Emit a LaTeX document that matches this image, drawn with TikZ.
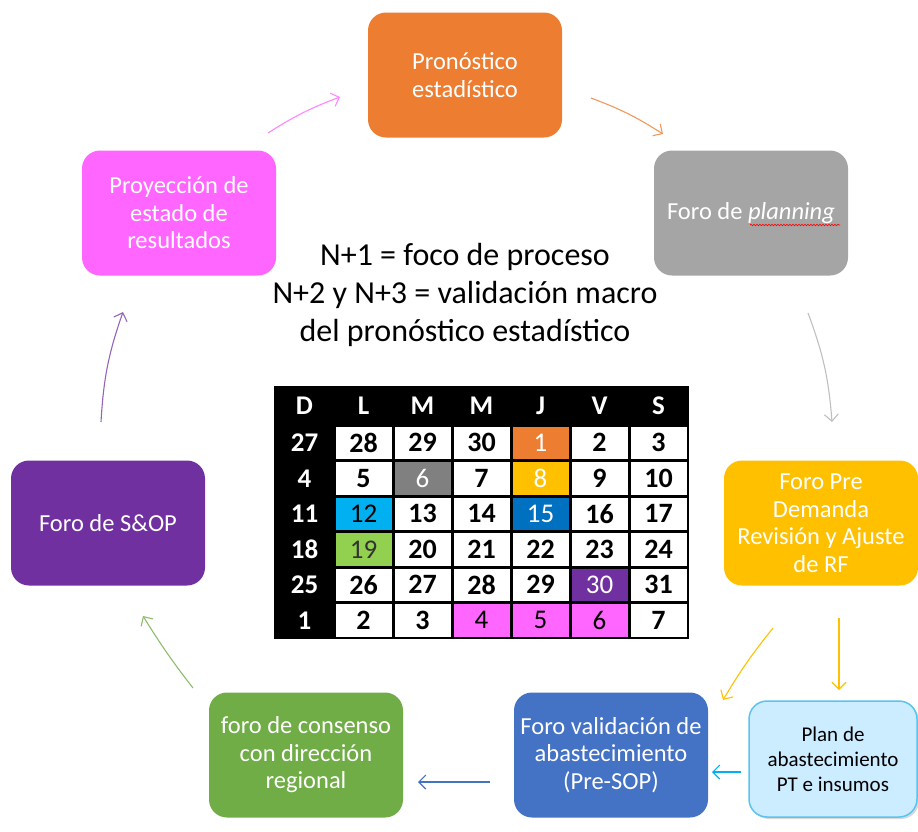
\documentclass[tikz,border=0pt]{standalone}
\usepackage{fontspec}
\setmainfont{Carlito}
\usetikzlibrary{arrows.meta,shadows,decorations.pathmorphing}

\definecolor{cOrange}{HTML}{ED7D31}
\definecolor{cGray}{HTML}{A5A5A5}
\definecolor{cDkGray}{HTML}{808080}
\definecolor{cMagenta}{HTML}{FF66FF}
\definecolor{cYellow}{HTML}{FFC000}
\definecolor{cPurple}{HTML}{7030A0}
\definecolor{cGreen}{HTML}{70AD47}
\definecolor{cLime}{HTML}{92D050}
\definecolor{cBlue}{HTML}{4472C4}
\definecolor{cDkBlue}{HTML}{0070C0}
\definecolor{cCyan}{HTML}{00B0F0}
\definecolor{cLight}{HTML}{CCECFF}
\definecolor{cLightEdge}{HTML}{5BC4EE}

\tikzset{
  procbox/.style={rounded corners=18pt, minimum width=194pt, minimum height=125pt,
    align=center, text=white, inner sep=4pt, font=\fontsize{24.5}{27.5}\selectfont},
  flow/.style={line width=1.1pt, -{Straight Barb[length=7pt,width=14pt]}},
  calhead/.style={text=white, font=\fontsize{27}{27}\selectfont\bfseries},
  calcell/.style={minimum width=56pt, minimum height=32.5pt, inner sep=0pt},
  wd/.style={fill=white, text=black, font=\fontsize{28}{28}\selectfont\bfseries},
  or/.style={fill=cOrange, text=white, font=\fontsize{27}{27}\selectfont},
  gy/.style={fill=cDkGray, text=white, font=\fontsize{27}{27}\selectfont},
  yl/.style={fill=cYellow, text=white, font=\fontsize{27}{27}\selectfont},
  cy/.style={fill=cCyan, text=black, font=\fontsize{27}{27}\selectfont},
  bl/.style={fill=cDkBlue, text=white, font=\fontsize{27}{27}\selectfont},
  gn/.style={fill=cLime, text=black!80, font=\fontsize{27}{27}\selectfont},
  pu/.style={fill=cPurple, text=white, font=\fontsize{27}{27}\selectfont},
  mg/.style={fill=cMagenta, text=black, font=\fontsize{27}{27}\selectfont}
}

\begin{document}
\begin{tikzpicture}[x=1pt,y=-1pt]

  \useasboundingbox (0,0) rectangle (918,831);

  \node[procbox, fill=cOrange]  (pron) at (465,75)  {Pronóstico\\estadístico};
  \node[procbox, fill=cGray]    (plan) at (751,213) {Foro de \textit{planning}};
  \node[procbox, fill=cMagenta] (proy) at (179,213) {Proyección de\\estado de\\resultados};
  \node[procbox, fill=cYellow]  (pre)  at (821,523) {Foro Pre\\Demanda\\Revisión y Ajuste\\de RF};
  \node[procbox, fill=cPurple]  (sop)  at (108,523) {Foro de S\&OP};
  \node[procbox, fill=cGreen]   (cons) at (306,755) {foro de consenso\\con dirección\\regional};
  \node[procbox, fill=cBlue]    (val)  at (611,755) {Foro validación de\\abastecimiento\\(Pre-SOP)};
  \node[procbox, fill=cLight, draw=cLightEdge, line width=1.5pt, text=black,
        minimum width=168pt, minimum height=116pt, font=\fontsize{21}{25}\selectfont,
        drop shadow={shadow xshift=2pt, shadow yshift=-2pt, opacity=0.3}]
        (abas) at (833,759) {Plan de\\abastecimiento\\PT e insumos};

  \draw[red, line width=0.6pt, decorate,
        decoration={snake, amplitude=0.8pt, segment length=3pt}] (750,225) -- (840,225);

  \node[align=center, font=\fontsize{32}{38}\selectfont] (foco) at (465,295)
    {N+1 = foco de proceso\\N+2 y N+3 = validación macro\\del pronóstico estadístico};

  % calendario
  \fill[black] (274,386) rectangle (689,639);
  \foreach [count=\j from 0] \d in {D,L,M,M,J,V,S}
    \node[calhead] (h\j) at (304.5+59*\j,406) {\d};
  \foreach [count=\i] \d in {27,4,11,18,25,1}
    \node[calhead] (d\i) at (304.5,407.25+35.5*\i) {\d};
  \foreach [count=\i] \row in {
      {28/wd,29/wd,30/wd,1/or,2/wd,3/wd},
      {5/wd,6/gy,7/wd,8/yl,9/wd,10/wd},
      {12/cy,13/wd,14/wd,15/bl,16/wd,17/wd},
      {19/gn,20/wd,21/wd,22/wd,23/wd,24/wd},
      {26/wd,27/wd,28/wd,29/wd,30/pu,31/wd},
      {2/wd,3/wd,4/mg,5/mg,6/mg,7/wd}}
    \foreach [count=\j] \n/\s in \row
      \node[calcell,\s] (c\i-\j) at (304.5+59*\j,407.25+35.5*\i) {\n};

  \coordinate (a1) at (268,133);  \coordinate (b1) at (340,97);
  \coordinate (a2) at (591,98);   \coordinate (b2) at (663,134);
  \coordinate (a3) at (808,313);  \coordinate (b3) at (832,422);
  \coordinate (a4) at (773,628);  \coordinate (b4) at (723,700);
  \coordinate (a5) at (839,618);  \coordinate (b5) at (839,690);
  \coordinate (a6) at (741,772);  \coordinate (b6) at (712,772);
  \coordinate (a7) at (490,782);  \coordinate (b7) at (418,782);
  \coordinate (a8) at (193,688);  \coordinate (b8) at (143,616);
  \coordinate (a9) at (101,422);  \coordinate (b9) at (123,312);

  \draw[flow, cMagenta!80]    (a1) to[bend left=6] (b1);
  \draw[flow, cOrange!80]     (a2) to[bend left=6] (b2);
  \draw[flow, black!25]       (a3) to[bend left=8] (b3);
  \draw[flow, cYellow]        (a4) to[bend right=4] (b4);
  \draw[flow, cYellow]        (a5) -- (b5);
  \draw[flow, cCyan]          (a6) -- (b6);
  \draw[flow, cBlue]          (a7) -- (b7);
  \draw[flow, cGreen!80]      (a8) to[bend left=3] (b8);
  \draw[flow, cPurple!75]     (a9) to[bend left=8] (b9);

\end{tikzpicture}
\end{document}
